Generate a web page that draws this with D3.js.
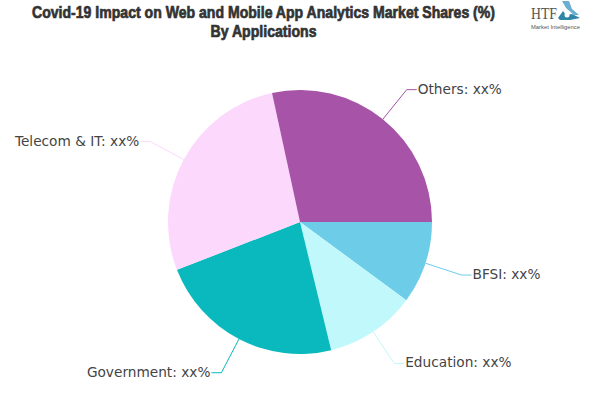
<!DOCTYPE html>
<html><head><meta charset="utf-8">
<script src="https://cdn.jsdelivr.net/npm/d3@7/dist/d3.min.js"></script>
<style>html,body{margin:0;padding:0;background:#fff}svg{display:block}</style>
</head><body><svg id="c" width="600" height="400"></svg>
<script>
const categories=["BFSI","Education","Government","Telecom & IT","Others"];
const shares=[10.1,11.1,22.9,27.5,28.4];
const colors=["#6dcde8","#c1f8fb","#09b9bd","#fdd8fd","#a653a8"];
const labelText=["BFSI: xx%","Education: xx%","Government: xx%","Telecom & IT: xx%","Others: xx%"];
const titleLines=["Covid-19 Impact on Web and Mobile App Analytics Market Shares (%)","By Applications"];
const titleWidths=[463,106];
const cx=300,cy=222,R=132,R2=170,stub=10;
const svg=d3.select("#c");
const pie=d3.pie().sort(null).startAngle(Math.PI/2).endAngle(Math.PI*2.5)(shares);
const arc=d3.arc().innerRadius(0).outerRadius(R);
const g=svg.append("g").attr("transform",`translate(${cx},${cy})`);
g.selectAll("path.s").data(pie).join("path").attr("class","s").attr("d",arc).attr("fill",(d,i)=>colors[i]);
const pt=(a,r)=>[r*Math.sin(a),-r*Math.cos(a)];
pie.forEach((d,i)=>{
  const a=(d.startAngle+d.endAngle)/2, p1=pt(a,R), p2=pt(a,R2), right=p2[0]>0;
  const p3=[p2[0]+(right?stub:-stub),p2[1]];
  g.append("path").attr("d",d3.line()([p1,p2,p3])).attr("fill","none").attr("stroke",colors[i]).attr("stroke-width",1);
  g.append("text").attr("x",p3[0]+(right?1:-1)).attr("y",p3[1]+4).attr("text-anchor",right?"start":"end")
   .attr("font-family","'DejaVu Sans',sans-serif").attr("font-size",13.7).attr("fill","#444").text(labelText[i]);
});
titleLines.forEach((t,i)=>svg.append("text").attr("x",263.5).attr("y",18+i*19).attr("text-anchor","middle")
  .attr("textLength",titleWidths[i]).attr("lengthAdjust","spacingAndGlyphs")
  .attr("font-family","'Liberation Sans',sans-serif").attr("font-weight","bold").attr("font-size",16.5)
  .attr("fill","#333").attr("stroke","#333").attr("stroke-width",0.7).text(t));
const logo=svg.append("g");
logo.append("text").attr("x",531).attr("y",19).attr("font-family","'Liberation Serif',serif").attr("font-size",17).attr("fill","#555")
  .attr("textLength",26).attr("lengthAdjust","spacingAndGlyphs").text("HTF");
logo.append("text").attr("x",531).attr("y",29).attr("font-family","'Liberation Sans',sans-serif").attr("font-size",5.5).attr("fill","#555")
  .attr("textLength",49).attr("lengthAdjust","spacingAndGlyphs").text("Market Intelligence");
logo.append("path").attr("d","M562 1 L569 1 L572 9 L579 15 L574 15 L566 8 Z").attr("fill","#6aaed0");
logo.append("path").attr("d","M558 18 L563 11 L566 15 L572 14 L580 18 L570 20 L560 20 Z").attr("fill","#2f86a8");
logo.append("circle").attr("cx",567).attr("cy",15).attr("r",2.5).attr("fill","#fff");
</script></body></html>
